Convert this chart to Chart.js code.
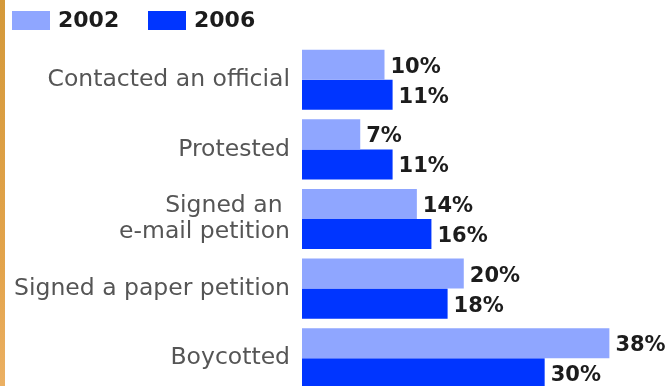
<!DOCTYPE html>
<html>
<head>
<meta charset="utf-8">
<script src="https://cdn.jsdelivr.net/npm/chart.js@4"></script>
<style>
  html, body { margin: 0; padding: 0; background: #fff; overflow: hidden; }
  #wrap { position: relative; width: 669px; height: 386px; overflow: hidden; }
  #strip { position: absolute; left: 0; top: 0; width: 5px; height: 386px; z-index: 2;
           background: linear-gradient(#d4993a, #e3a44c 70%, #ebb063); }
  #box { position: absolute; left: 0; top: 0; width: 669px; height: 396px; }
</style>
</head>
<body>
<div id="wrap">
  <div id="strip"></div>
  <div id="box"><canvas id="myChart"></canvas></div>
</div>
<script>
var categories = [
    "Contacted an official",
    "Protested",
    ["Signed an ", "e-mail petition"],
    "Signed a paper petition",
    "Boycotted"
];
var years = ["2002", "2006"];
var values2002 = [10.2, 7.2, 14.2, 20, 38];
var values2006 = [11.2, 11.2, 16, 18, 30];

var colors = ["#8fa6ff", "#0035ff"];

// legend drawn in the top padding, values written next to each bar
var extras = {
    id: "extras",
    afterDatasetsDraw: function (chart) {
        var ctx = chart.ctx;
        ctx.save();
        ctx.font = "bold 21px 'DejaVu Sans'";
        ctx.fillStyle = "#1c1c1c";
        ctx.textBaseline = "middle";
        ctx.textAlign = "left";
        chart.data.datasets.forEach(function (ds, i) {
            chart.getDatasetMeta(i).data.forEach(function (bar, j) {
                ctx.fillText(Math.round(ds.data[j]) + "%", bar.x + 6, bar.y + 2.5);
            });
        });

        var legendX = [12, 148];
        ctx.font = "bold 22px 'DejaVu Sans'";
        chart.data.datasets.forEach(function (ds, i) {
            ctx.fillStyle = ds.backgroundColor;
            ctx.fillRect(legendX[i], 11, 38, 19);
            ctx.fillStyle = "#1c1c1c";
            ctx.fillText(ds.label, legendX[i] + 46, 21);
        });
        ctx.restore();
    }
};

var chart = new Chart("myChart", {
    type: "bar",
    data: {
        labels: categories,
        datasets: [{
            label: years[0],
            data: values2002,
            backgroundColor: colors[0]
        }, {
            label: years[1],
            data: values2006,
            backgroundColor: colors[1]
        }]
    },
    options: {
        indexAxis: "y",
        responsive: true,
        maintainAspectRatio: false,
        animation: false,
        datasets: {
            bar: { categoryPercentage: 0.863, barPercentage: 1.0 }
        },
        layout: { padding: { top: 45, bottom: 3, left: 0, right: 3 } },
        plugins: {
            legend: { display: false },
            tooltip: { enabled: false }
        },
        scales: {
            x: {
                display: false,
                min: 0,
                max: 45
            },
            y: {
                grid: { display: false, drawTicks: false },
                border: { display: false },
                afterFit: function (scale) {
                    scale.width = 302;
                    scale.paddingTop = 0;
                    scale.paddingBottom = 0;
                },
                ticks: {
                    padding: 12,
                    color: "#555555",
                    font: { family: "'DejaVu Sans'", size: 23.5, lineHeight: 1.08 }
                }
            }
        }
    },
    plugins: [extras]
});
</script>
</body>
</html>
